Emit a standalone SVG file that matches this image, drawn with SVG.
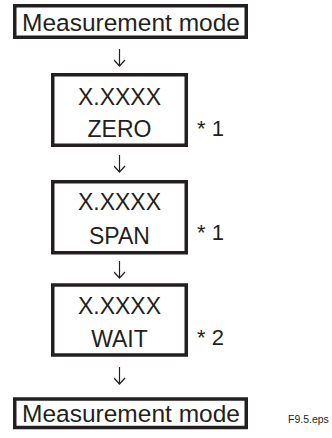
<svg xmlns="http://www.w3.org/2000/svg" width="332" height="438" viewBox="0 0 332 438">
<style>
.box{fill:#fff;stroke:#231f20;stroke-width:3.5}
.t{font-family:"Liberation Sans",Arial,sans-serif;font-size:23px;fill:#231f20;text-anchor:middle}
.m{font-size:24.5px}
.n{font-family:"Liberation Sans",Arial,sans-serif;font-size:22px;fill:#231f20}
.c{fill:none;stroke:#231f20;stroke-width:1.2}
</style>
<defs>
<marker id="ah" viewBox="0 0 10 12" refX="9" refY="6" markerWidth="10" markerHeight="12" markerUnits="userSpaceOnUse" orient="auto">
<path d="M3,0.5 L9,6 L3,11.5" fill="none" stroke="#231f20" stroke-width="1.2"/>
</marker>
</defs>
<rect width="332" height="438" fill="#fff"/>
<g id="connectors">
<path class="c" d="M119.5,49 V66" marker-end="url(#ah)"/>
<path class="c" d="M119.5,155 V172" marker-end="url(#ah)"/>
<path class="c" d="M119.5,261 V278" marker-end="url(#ah)"/>
<path class="c" d="M119.5,367 V384" marker-end="url(#ah)"/>
</g>
<g id="start">
<rect class="box" x="14.75" y="5.75" width="231.5" height="31.5"/>
<text class="t m" x="131" y="31">Measurement mode</text>
</g>
<g id="zero">
<rect class="box" x="52.75" y="74.75" width="133.5" height="70.5"/>
<text class="t" x="119.5" y="105">X.XXXX</text>
<text class="t" x="119.5" y="137">ZERO</text>
<text class="n" x="197" y="136">* 1</text>
</g>
<g id="span">
<rect class="box" x="52.75" y="181.75" width="133.5" height="71"/>
<text class="t" x="119.5" y="210">X.XXXX</text>
<text class="t" x="119.5" y="244">SPAN</text>
<text class="n" x="197" y="240">* 1</text>
</g>
<g id="wait">
<rect class="box" x="52.75" y="285" width="133.5" height="70"/>
<text class="t" x="119.5" y="314">X.XXXX</text>
<text class="t" x="119.5" y="347">WAIT</text>
<text class="n" x="197" y="345">* 2</text>
</g>
<g id="end">
<rect class="box" x="14.75" y="399" width="231.5" height="28.5"/>
<text class="t m" x="131" y="422">Measurement mode</text>
</g>
<text x="288" y="423" font-family="Liberation Sans,Arial,sans-serif" font-size="10.5" fill="#231f20">F9.5.eps</text>
</svg>
